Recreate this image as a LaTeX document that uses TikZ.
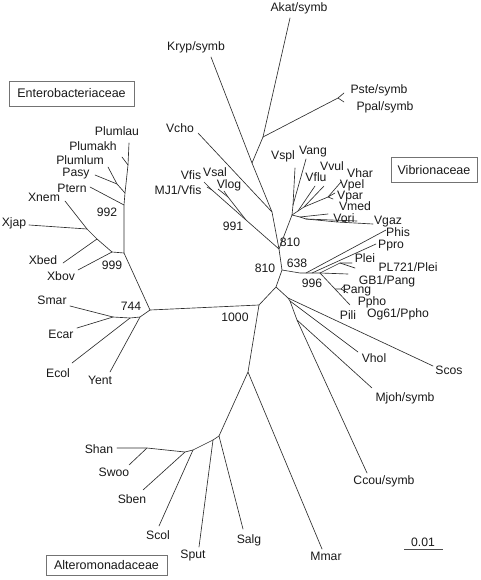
\documentclass[tikz,border=0pt]{standalone}
\usepackage{fontspec}
\setmainfont{Liberation Sans}
\begin{document}
\begin{tikzpicture}[x=1pt,y=-1pt,
  br/.style={draw=black!82, line width=0.65pt, line cap=round, line join=round},
  lab/.style={font=\fontsize{12.2}{14}\selectfont, inner sep=0pt, text=black!90},
  fam/.style={draw=black!55, line width=0.7pt, font=\fontsize{12.5}{14}\selectfont, inner sep=0pt, text=black!90},
  sbar/.style={draw=black!70, line width=0.8pt}]
\useasboundingbox (0,0) rectangle (480,580);
% ---------- Enterobacteriaceae ----------
\coordinate (tPlumlau) at (129,143);
\coordinate (tPlumakh) at (122,157);
\coordinate (tPlumlum) at (108,167);
\coordinate (tPasy) at (95,175);
\coordinate (tPtern) at (90,187);
\coordinate (tXnem) at (65,201);
\coordinate (tXjap) at (29,225);
\coordinate (tXbed) at (63,263);
\coordinate (tXbov) at (78,270);
\coordinate (tSmar) at (70,306);
\coordinate (tEcar) at (77,328);
\coordinate (tEcol) at (72,363);
\coordinate (tYent) at (110,372);
\coordinate (Q3) at (128,165);
\coordinate (Q2) at (117,184);
\coordinate (Q1) at (125,193);
\coordinate (P992) at (124,205);
\coordinate (N999) at (124,253);
\coordinate (X1) at (112,252);
\coordinate (X2) at (97,239);
\coordinate (X3) at (87,229);
\coordinate (A) at (150,310);
\coordinate (E1) at (140,317);
\coordinate (E2) at (130,318);
\coordinate (E3) at (113,317);
\draw[br] (tPlumlau) -- (Q3) -- (Q1) -- (P992) -- (N999) -- (A);
\draw[br] (tPlumakh) -- (Q3);
\draw[br] (tPlumlum) -- (Q2) -- (Q1);
\draw[br] (tPasy) -- (Q2);
\draw[br] (tPtern) -- (P992);
\draw[br] (N999) -- (X1) -- (X2) -- (X3) -- (tXjap);
\draw[br] (X1) -- (tXbov);
\draw[br] (X2) -- (tXbed);
\draw[br] (X3) -- (tXnem);
\draw[br] (A) -- (E1) -- (E2) -- (E3) -- (tSmar);
\draw[br] (E1) -- (tYent);
\draw[br] (E2) -- (tEcol);
\draw[br] (E3) -- (tEcar);
\node[lab] (lPlumlau) at (117,131) {Plumlau};
\node[lab] (lPlumakh) at (93,146) {Plumakh};
\node[lab] (lPlumlum) at (80,160) {Plumlum};
\node[lab] (lPasy) at (76,174) {Pasy};
\node[lab] (lPtern) at (72,188.5) {Ptern};
\node[lab] (lXnem) at (44,197) {Xnem};
\node[lab] (lXjap) at (14,223) {Xjap};
\node[lab] (lXbed) at (43,260) {Xbed};
\node[lab] (lXbov) at (61,276) {Xbov};
\node[lab] (lSmar) at (52,300) {Smar};
\node[lab] (lEcar) at (61,334) {Ecar};
\node[lab] (lEcol) at (58,373) {Ecol};
\node[lab] (lYent) at (100,380) {Yent};
\node[lab] (b992) at (107,212) {992};
\node[lab] (b999) at (112,265) {999};
\node[lab] (b744) at (131,306) {744};
% ---------- central ----------
\coordinate (B) at (259,305);
\coordinate (C) at (276,287);
\coordinate (D) at (282,270);
\coordinate (G) at (279,249);
\coordinate (V) at (272,212);
\coordinate (K) at (252,163);
\coordinate (AK) at (263,137);
\draw[br] (A) -- (B) -- (C) -- (D) -- (G) -- (V) -- (K) -- (AK);
\node[lab] (b1000) at (235,317) {1000};
\node[lab] (b810a) at (265,268) {810};
\node[lab] (b810b) at (290,242) {810};
% ---------- upper group ----------
\coordinate (tKryp) at (211,57);
\coordinate (tAkat) at (290,18);
\coordinate (PS) at (338,98);
\coordinate (tPste) at (344,93);
\coordinate (tPpal) at (344,102);
\coordinate (tVcho) at (198,133);
\draw[br] (K) -- (tKryp);
\draw[br] (AK) -- (tAkat);
\draw[br] (AK) -- (PS) -- (tPste);
\draw[br] (PS) -- (tPpal);
\draw[br] (V) -- (tVcho);
\node[lab] (lKryp) at (196,47) {Kryp/symb};
\node[lab] (lAkat) at (299,8) {Akat/symb};
\node[lab] (lPste) at (379,90) {Pste/symb};
\node[lab] (lPpal) at (385,107) {Ppal/symb};
\node[lab] (lVcho) at (180,128) {Vcho};
% ---------- 991 group ----------
\coordinate (tVfis) at (204,182);
\coordinate (tMJ) at (207,187);
\coordinate (N1) at (212,190);
\coordinate (N991) at (246,220);
\coordinate (tVsal) at (218,189);
\coordinate (tVlog) at (224,191);
\coordinate (N2) at (228,197);
\draw[br] (G) -- (N991) -- (N1) -- (tVfis);
\draw[br] (N1) -- (tMJ);
\draw[br] (N991) -- (N2) -- (tVsal);
\draw[br] (N2) -- (tVlog);
\node[lab] (lVfis) at (191,175) {Vfis};
\node[lab] (lVsal) at (215,172) {Vsal};
\node[lab] (lMJ) at (178,190) {MJ1/Vfis};
\node[lab] (lVlog) at (229,185) {Vlog};
\node[lab] (b991) at (233,226) {991};
% ---------- Vibrio core ----------
\coordinate (VC1) at (292,215);
\coordinate (VS) at (293,205);
\coordinate (tVspl) at (295,168);
\coordinate (tVang) at (306,159);
\coordinate (VF) at (298,211);
\coordinate (tVflu) at (315,186);
\coordinate (VV) at (304,207);
\coordinate (tVvul) at (324,186);
\coordinate (VP) at (328,197);
\coordinate (tVhar) at (341,182);
\coordinate (tVpel) at (335,193);
\coordinate (tVpar) at (333,199);
\coordinate (VM) at (300,217);
\coordinate (tVmed) at (328,214);
\coordinate (VO) at (306,219);
\coordinate (tVori) at (357,221);
\coordinate (VG) at (337,222);
\coordinate (tVgaz) at (373,224);
\draw[br] (G) -- (VC1) -- (VS) -- (tVspl);
\draw[br] (VS) -- (tVang);
\draw[br] (VC1) -- (VF) -- (tVflu);
\draw[br] (VF) -- (VV) -- (tVvul);
\draw[br] (VV) -- (VP) -- (tVhar);
\draw[br] (VP) -- (tVpel);
\draw[br] (VP) -- (tVpar);
\draw[br] (VC1) -- (VM) -- (tVmed);
\draw[br] (VM) -- (VO) -- (tVori);
\draw[br] (VO) -- (VG) -- (tVgaz);
\node[lab] (lVspl) at (283,156) {Vspl};
\node[lab] (lVang) at (313,152) {Vang};
\node[lab] (lVflu) at (316,177) {Vflu};
\node[lab] (lVvul) at (332,166) {Vvul};
\node[lab] (lVhar) at (360,173) {Vhar};
\node[lab] (lVpel) at (352,185) {Vpel};
\node[lab] (lVpar) at (350,196.5) {Vpar};
\node[lab] (lVmed) at (355,206.5) {Vmed};
\node[lab] (lVori) at (344,218.5) {Vori};
\node[lab] (lVgaz) at (388,222) {Vgaz};
% ---------- Photobacterium ----------
\coordinate (P638) at (300,273);
\coordinate (PA) at (306,273);
\coordinate (PB) at (312,273);
\coordinate (P996) at (320,273);
\coordinate (tPhis) at (386,230);
\coordinate (tPpro) at (376,244);
\coordinate (PLn) at (340,263);
\coordinate (tPlei) at (352,263);
\coordinate (tPL) at (355,268);
\coordinate (tGB) at (348,274);
\coordinate (PQ) at (335,289);
\coordinate (tPili) at (350,305);
\coordinate (PPn) at (341,289);
\coordinate (tPang) at (345,285);
\coordinate (tPpho) at (348,293);
\draw[br] (D) -- (P638) -- (PA) -- (PB) -- (P996);
\draw[br] (PA) -- (tPhis);
\draw[br] (PB) -- (tPpro);
\draw[br] (P996) -- (PLn) -- (tPlei);
\draw[br] (PLn) -- (tPL);
\draw[br] (P996) -- (tGB);
\draw[br] (P996) -- (PQ) -- (tPili);
\draw[br] (PQ) -- (PPn) -- (tPang);
\draw[br] (PPn) -- (tPpho);
\node[lab] (lPhis) at (398,232) {Phis};
\node[lab] (lPpro) at (391,245.5) {Ppro};
\node[lab] (lPlei) at (365,258) {Plei};
\node[lab] (lPL) at (408,267.5) {PL721/Plei};
\node[lab] (lGB) at (387,281) {GB1/Pang};
\node[lab] (lPang) at (357,291) {Pang};
\node[lab] (lPpho) at (372,302) {Ppho};
\node[lab] (lOg) at (398,314) {Og61/Ppho};
\node[lab] (lPili) at (348,315.5) {Pili};
\node[lab] (b638) at (297,263) {638};
\node[lab] (b996) at (312,283) {996};
% ---------- lower right ----------
\coordinate (E) at (288,298);
\coordinate (Eb) at (290,301);
\coordinate (F) at (297,320);
\coordinate (tScos) at (433,366);
\coordinate (tVhol) at (358,352);
\coordinate (tMjoh) at (372,388);
\coordinate (tCcou) at (367,473);
\draw[br] (C) -- (E) -- (tScos);
\draw[br] (E) -- (Eb) -- (tVhol);
\draw[br] (Eb) -- (F) -- (tCcou);
\draw[br] (F) -- (tMjoh);
\node[lab] (lScos) at (449,370) {Scos};
\node[lab] (lVhol) at (374,358) {Vhol};
\node[lab] (lMjoh) at (405,398) {Mjoh/symb};
\node[lab] (lCcou) at (384,481) {Ccou/symb};
% ---------- Alteromonadaceae ----------
\coordinate (H0) at (248,372);
\coordinate (H1) at (219,436);
\coordinate (H2) at (213,440);
\coordinate (H3) at (193,450);
\coordinate (H4) at (185,452);
\coordinate (H5) at (147,448);
\coordinate (tMmar) at (322,549);
\coordinate (tSalg) at (243,529);
\coordinate (tSput) at (199,547);
\coordinate (tScol) at (159,526);
\coordinate (tSben) at (143,490);
\coordinate (tSwoo) at (129,465);
\coordinate (tShan) at (117,448);
\draw[br] (B) -- (H0) -- (H1) -- (H2) -- (H3) -- (H4) -- (H5) -- (tShan);
\draw[br] (H0) -- (tMmar);
\draw[br] (H1) -- (tSalg);
\draw[br] (H2) -- (tSput);
\draw[br] (H3) -- (tScol);
\draw[br] (H4) -- (tSben);
\draw[br] (H5) -- (tSwoo);
\node[lab] (lMmar) at (326,556) {Mmar};
\node[lab] (lSalg) at (249,540) {Salg};
\node[lab] (lSput) at (193,555) {Sput};
\node[lab] (lScol) at (158,535) {Scol};
\node[lab] (lSben) at (132,499) {Sben};
\node[lab] (lSwoo) at (114,472) {Swoo};
\node[lab] (lShan) at (99,449) {Shan};
% ---------- family boxes ----------
\node[fam, minimum width=125pt, minimum height=25pt] (fEnt) at (71.5,93.5) {Enterobacteriaceae};
\node[fam, minimum width=86pt, minimum height=25pt] (fVib) at (434,170) {Vibrionaceae};
\node[fam, minimum width=121pt, minimum height=20pt] (fAlt) at (106.5,565.5) {Alteromonadaceae};
% ---------- scale bar ----------
\coordinate (sb1) at (404,549);
\coordinate (sb2) at (443,549);
\draw[sbar] (sb1) -- (sb2);
\node[lab] (lsb) at (423,542) {0.01};
\end{tikzpicture}
\end{document}
